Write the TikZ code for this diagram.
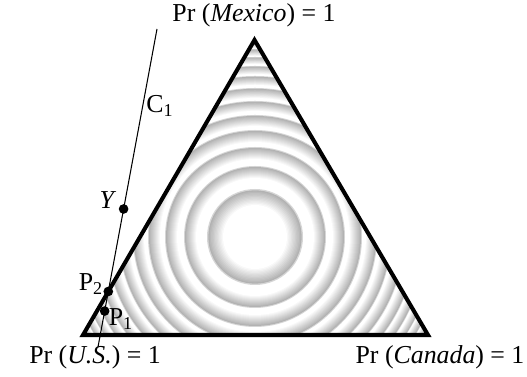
\documentclass[tikz,border=0pt]{standalone}
\usepackage{fontspec}
\setmainfont{Liberation Serif}
\usetikzlibrary{calc}

\begin{document}
\begin{tikzpicture}[
  x=0.02cm, y=0.02cm,
  font=\fontsize{14.7}{17}\selectfont,
  simplex/.style={line width=2.3pt, line join=miter},
  chord/.style={line width=0.6pt},
  dot/.style={circle, fill=black, inner sep=0pt, minimum size=5.5pt},
  lbl/.style={inner sep=0pt}
]
\useasboundingbox (0,0) rectangle (527,377);
\coordinate (us) at (83,42);
\coordinate (mx) at (254.5,337);
\coordinate (ca) at (428,42);
\coordinate (ctr) at (255,140);

% level sets of the probability, clipped to the simplex (outer ones first)
\begin{scope}
  \clip (us) -- (mx) -- (ca) -- cycle;
  \foreach \r/\w in {201/5,195/6,188/7,180/7,171/8,161/9,149/10,136/10,122/11,107/12,90/12,71/12,48/16} {
    \foreach \i in {0,...,12} {
      \pgfmathsetmacro{\shade}{\i==0 ? 16 : 30*(12-\i)/11}
      \fill[black!\shade] (ctr) circle ({\r-\i*\w/12});
    }
  }
\end{scope}

\draw[simplex] (us) -- (mx) -- (ca) -- cycle;

% line C1 and its points
\coordinate (c1top) at (157,348);
\coordinate (c1bot) at (98,30);
\draw[chord] (c1top) -- (c1bot);
\node[dot] (y) at ($(c1bot)!0.434!(c1top)$) {};
\node[dot] (p2) at (intersection of us--mx and c1bot--c1top) {};
\node[dot] (p1) at ($(c1bot)!0.113!(c1top)$) {};

\node[lbl] (mxlbl) at (254,362) {Pr (\textit{Mexico}) = 1};
\node[lbl] (uslbl) at (95,20) {Pr (\textit{U.S.}) = 1};
\node[lbl] (calbl) at (440,20) {Pr (\textit{Canada}) = 1};
\node[lbl] (c1lbl) at (160,271) {C\textsubscript{1}};
\node[lbl] (ylbl) at (108,177) {\textit{Y}};
\node[lbl] (p2lbl) at (91,93) {P\textsubscript{2}};
\node[lbl] (p1lbl) at (121,58) {P\textsubscript{1}};
\end{tikzpicture}
\end{document}
